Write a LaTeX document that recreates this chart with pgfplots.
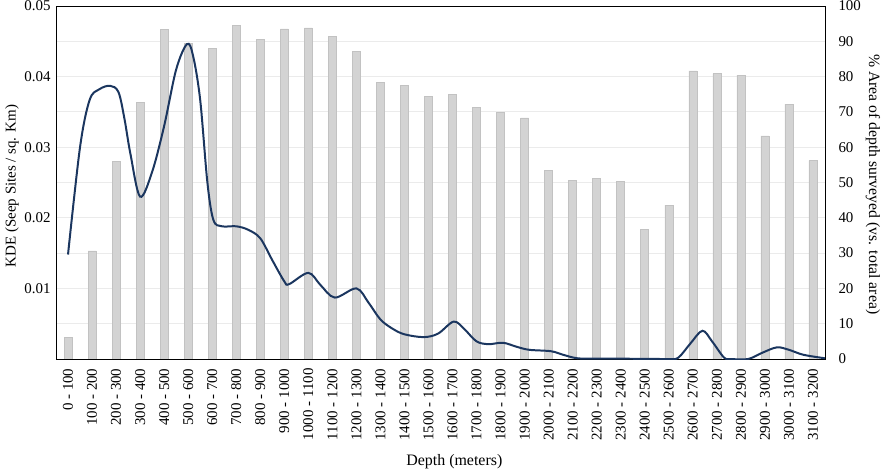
\documentclass[border=0pt]{standalone}
\usepackage{pgfplots}
\pgfplotsset{compat=1.18}
\usepackage{fontspec}
\setmainfont{Liberation Serif}
\definecolor{barfill}{HTML}{D3D3D3}
\definecolor{bardraw}{HTML}{C2C2C2}
\definecolor{kde}{HTML}{1B365F}
\definecolor{gridc}{HTML}{EBEBEB}
\begin{document}
\begin{tikzpicture}
\useasboundingbox (-56bp,-112bp) rectangle (830bp,359bp);
\pgfplotsset{
  common/.style={
    at={(0,0)}, anchor=south west,
    scale only axis, width=769bp, height=353bp,
    xmin=-0.5, xmax=31.5,
    major tick length=0pt,
    tick label style={font=\fontsize{15}{18}\selectfont},
    /pgf/number format/assume math mode=true,
  }
}
\begin{axis}[common,
  ymin=0, ymax=100,
  ytick={0,10,...,100},
  ytick pos=right,
  yticklabel style={anchor=west, xshift=10bp},
  xtick=\empty,
  ymajorgrids, grid style={gridc, line width=0.8pt},
  axis line style={black, line width=0.9pt},
  ylabel={\% Area of depth surveyed (vs. total area)},
  ylabel style={font=\fontsize{15.8}{18}\selectfont, at={(axis description cs:1,0.495)}, anchor=center, rotate=180, yshift=48bp},
]
\addplot[ybar, bar width=8bp, fill=barfill, draw=bardraw, line width=0.6pt] coordinates {
(0,6.1) (1,30.6) (2,56.0) (3,72.7) (4,93.3) (5,89.5) (6,88.0) (7,94.6)
(8,90.6) (9,93.5) (10,93.8) (11,91.5) (12,87.1) (13,78.3) (14,77.5) (15,74.4)
(16,75.0) (17,71.2) (18,69.9) (19,68.3) (20,53.5) (21,50.5) (22,51.1) (23,50.2)
(24,36.8) (25,43.6) (26,81.6) (27,80.8) (28,80.4) (29,63.2) (30,72.2) (31,56.2)
};
\end{axis}
\begin{axis}[common,
  ymin=0, ymax=0.05,
  ytick={0.01,0.02,0.03,0.04,0.05},
  yticklabels={0.01,0.02,0.03,0.04,0.05},
  ytick pos=left,
  yticklabel style={anchor=east, xshift=-2bp},
  axis line style={draw=none},
  xtick={0,...,31},
  xticklabels={0 - 100,100 - 200,200 - 300,300 - 400,400 - 500,500 - 600,600 - 700,700 - 800,800 - 900,900 - 1000,1000 - 1100,1100 - 1200,1200 - 1300,1300 - 1400,1400 - 1500,1500 - 1600,1600 - 1700,1700 - 1800,1800 - 1900,1900 - 2000,2000 - 2100,2100 - 2200,2200 - 2300,2300 - 2400,2400 - 2500,2500 - 2600,2600 - 2700,2700 - 2800,2800 - 2900,2900 - 3000,3000 - 3100,3100 - 3200},
  xticklabel style={rotate=90, anchor=east, xshift=-6bp},
  xlabel={Depth (meters)},
  xlabel style={font=\fontsize{16}{18}\selectfont, at={(axis description cs:0.518,0)}, anchor=center, yshift=-103bp},
  ylabel={KDE (Seep Sites / sq. Km)},
  ylabel style={font=\fontsize{15}{18}\selectfont, at={(axis description cs:0,0.49)}, anchor=center, yshift=44bp},
]
\addplot[kde, line width=2pt, smooth, tension=0.55] coordinates {
(0.0,0.0148) (0.5,0.0300) (0.9,0.0367) (1.3,0.0382) (1.75,0.0387) (2.1,0.0378)
(2.35,0.0340) (2.6,0.0290) (3.0,0.0230) (3.5,0.0265) (4.0,0.0330) (4.5,0.0410) (4.95,0.0446)
(5.2,0.0430) (5.5,0.0367) (5.8,0.0250) (6.05,0.0197) (6.4,0.0188) (7.0,0.0188)
(7.5,0.0183) (8.0,0.0171) (8.5,0.0140) (9.0,0.0110) (9.2,0.0106) (10.0,0.0122)
(10.5,0.0105) (11.1,0.0087) (12.0,0.0100) (12.5,0.0080) (13.0,0.0056) (13.5,0.0043)
(14.0,0.0035) (14.8,0.0031) (15.4,0.0036) (16.05,0.0053) (16.5,0.0042) (17.0,0.0025)
(17.5,0.0021) (18.1,0.0023) (18.7,0.0017) (19.2,0.0013) (20.1,0.0011) (20.6,0.0006)
(21.2,0.0001) (22.0,0.00005) (24.0,0.00003) (25.0,0.0) (25.4,0.0002) (25.9,0.0022)
(26.4,0.0040) (26.8,0.0025) (27.3,0.0002) (27.6,0.0) (28.3,0.0) (28.9,0.0009)
(29.5,0.00165) (30.0,0.0013) (30.6,0.0006) (31.5,0.0001)
};
\end{axis}
\end{tikzpicture}
\end{document}
